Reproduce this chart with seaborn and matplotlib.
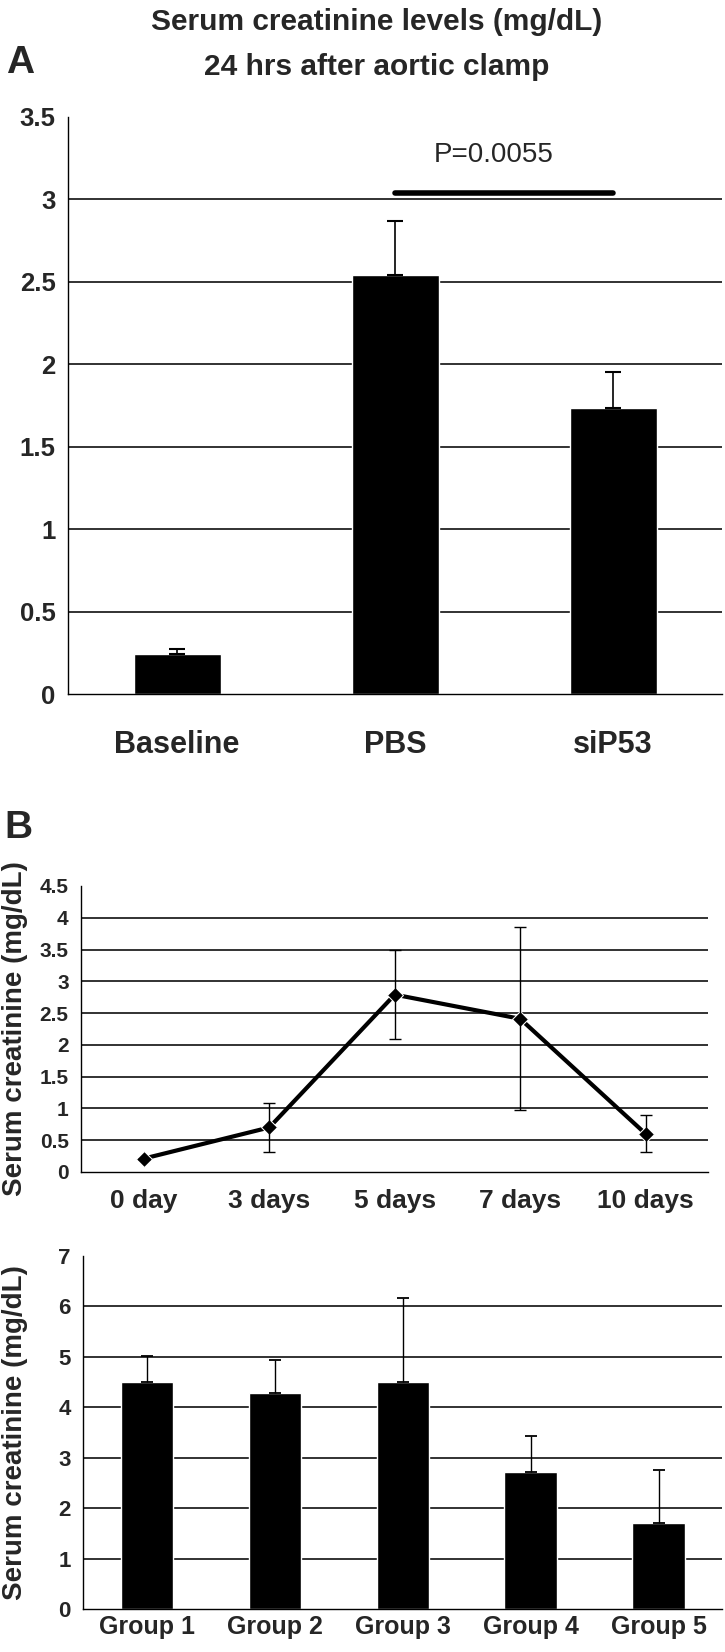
import numpy as np
import pandas as pd
import matplotlib
matplotlib.use("Agg")
import matplotlib.pyplot as plt
import seaborn as sns

# panel A data
groups_a = ["Baseline", "PBS", "siP53"]
creat_a = [0.24, 2.54, 1.735]
err_a = [0.03, 0.33, 0.22]
p_text = "P=0.0055"
p_level = 3.04

# panel B (time course)
days = ["0 day", "3 days", "5 days", "7 days", "10 days"]
creat_days = [0.21, 0.70, 2.79, 2.41, 0.60]
err_days = [0.0, 0.38, 0.70, 1.44, 0.29]

# panel B (groups)
groups_b = ["Group 1", "Group 2", "Group 3", "Group 4", "Group 5"]
creat_b = [4.50, 4.29, 4.50, 2.71, 1.70]
err_b = [0.52, 0.64, 1.66, 0.72, 1.06]

ylab = "Serum creatinine (mg/dL)"

sns.set_style("white")
plt.rcParams["font.family"] = ["Liberation Sans", "DejaVu Sans"]

fig = plt.figure(figsize=(7.25, 16.52), dpi=100)


def style_axis(ax, n, ymax, ystep, labels, tick_fs, xtick_len):
    ax.set_xlim(-0.5, n - 0.5)
    ax.set_ylim(0, ymax)
    ax.set_yticks(np.arange(0, ymax + ystep / 2, ystep))
    ax.set_yticklabels(labels, fontweight="bold", fontsize=tick_fs)
    ax.set_xticks(np.arange(-0.5, n, 1.0), minor=True)
    ax.tick_params(axis="x", which="major", length=0)
    ax.tick_params(axis="x", which="minor", length=xtick_len, width=1, color="black", direction="out")
    ax.tick_params(axis="y", length=6, width=1, color="black", direction="out", pad=3)
    for s in ["top", "right"]:
        ax.spines[s].set_visible(False)
    for s in ["left", "bottom"]:
        ax.spines[s].set_color("black")
        ax.spines[s].set_linewidth(1)
    ax.yaxis.grid(True, color="#222222", linewidth=1.3)
    ax.set_axisbelow(True)
    ax.get_ygridlines()[-1].set_visible(False)
    ax.get_ygridlines()[0].set_visible(False)
    ax.set_xlabel("")
    ax.set_ylabel("")


# ---- panel A
axA = fig.add_axes([0.094, 0.5799, 0.902, 0.3493])
dfa = pd.DataFrame({"group": groups_a, "creat": creat_a})
sns.barplot(data=dfa, x="group", y="creat", color="black", width=0.4,
            errorbar=None, ax=axA, saturation=1)
axA.errorbar(range(len(groups_a)), creat_a, yerr=[np.zeros(3), err_a], fmt="none",
             ecolor="black", elinewidth=1.2, capsize=6, capthick=1.5)
style_axis(axA, 3, 3.5, 0.5, ["0", "0.5", "1", "1.5", "2", "2.5", "3", "3.5"], 18.5, 12)
axA.tick_params(axis="x", which="major", pad=26)
for lab in axA.get_xticklabels():
    lab.set_fontweight("bold")
    lab.set_fontsize(22)
axA.plot([1, 2], [p_level, p_level], color="black", linewidth=4, solid_capstyle="round")
axA.text(1.45, 3.27, p_text, ha="center", va="center", fontsize=20)

fig.text(0.519, 0.9867, "Serum creatinine levels (mg/dL)", ha="center", va="center",
         fontsize=21.5, fontweight="bold")
fig.text(0.519, 0.9594, "24 hrs after aortic clamp", ha="center", va="center",
         fontsize=21.5, fontweight="bold")
fig.text(0.008, 0.962, "A", ha="left", va="center", fontsize=28, fontweight="bold")

# ---- panel B, time course
axB1 = fig.add_axes([0.112, 0.2906, 0.865, 0.1731])
dfd = pd.DataFrame({"day": days, "creat": creat_days})
sns.lineplot(data=dfd, x="day", y="creat", color="black", linewidth=3, marker="D",
             markersize=8, sort=False, ax=axB1)
axB1.errorbar(range(len(days)), creat_days, yerr=err_days, fmt="none",
              ecolor="black", elinewidth=1, capsize=4, capthick=1)
style_axis(axB1, 5, 4.5, 0.5, ["0", "0.5", "1", "1.5", "2", "2.5", "3", "3.5", "4", "4.5"], 15, 7)
axB1.set_ylabel(ylab, fontsize=20, fontweight="bold")
axB1.yaxis.set_label_coords(-0.085, 0.5)
axB1.tick_params(axis="x", which="major", pad=12)
for lab in axB1.get_xticklabels():
    lab.set_fontweight("bold")
    lab.set_fontsize(19)
fig.text(0.006, 0.499, "B", ha="left", va="center", fontsize=28, fontweight="bold")

# ---- panel B, groups
axB2 = fig.add_axes([0.1145, 0.026, 0.882, 0.2137])
dfb = pd.DataFrame({"group": groups_b, "creat": creat_b})
sns.barplot(data=dfb, x="group", y="creat", color="black", width=0.41,
            errorbar=None, ax=axB2, saturation=1)
axB2.errorbar(range(len(groups_b)), creat_b, yerr=[np.zeros(5), err_b], fmt="none",
              ecolor="black", elinewidth=1, capsize=4, capthick=1.3)
style_axis(axB2, 5, 7, 1, [str(v) for v in range(8)], 16, 7)
axB2.set_ylabel(ylab, fontsize=20, fontweight="bold")
axB2.yaxis.set_label_coords(-0.086, 0.5)
axB2.tick_params(axis="x", which="major", pad=4)
for lab in axB2.get_xticklabels():
    lab.set_fontweight("bold")
    lab.set_fontsize(18)

fig.savefig("out.png", dpi=100)
